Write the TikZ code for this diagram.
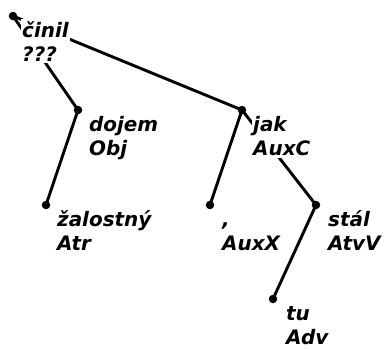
\documentclass[tikz,border=0pt]{standalone}
\usepackage{fontspec}
\setmainfont{DejaVu Sans}[ItalicFont={DejaVu Sans Oblique},BoldFont={DejaVu Sans Bold},BoldItalicFont={DejaVu Sans Bold Oblique}]
\begin{document}
\begin{tikzpicture}[x=1bp,y=-1bp,
  dotnode/.style={circle,fill=black,inner sep=0pt,minimum size=8.5bp},
  edge/.style={line width=2.9bp,black},
  lbl/.style={anchor=north west,fill=white,inner sep=1.5bp,align=left,
    font=\fontsize{20}{24}\selectfont\bfseries\itshape}]
\useasboundingbox (0,0) rectangle (387,349);
\node[dotnode] (c) at (13,16) {};
\node[dotnode] (d) at (78,110) {};
\node[dotnode] (z) at (46,205) {};
\node[dotnode] (j) at (242,110) {};
\node[dotnode] (m) at (210,205) {};
\node[dotnode] (s) at (316,205) {};
\node[dotnode] (t) at (273,299) {};
\draw[edge] (c.center) -- (d.center);
\draw[edge] (d.center) -- (z.center);
\draw[edge] (c.center) -- (j.center);
\draw[edge] (j.center) -- (m.center);
\draw[edge] (j.center) -- (s.center);
\draw[edge] (s.center) -- (t.center);
\node[lbl] (lc) at (20.5,19) {\strut činil\\???};
\node[lbl] (ld) at (87.5,113.5) {\strut dojem\\Obj};
\node[lbl] (lz) at (55.5,208.5) {\strut žalostný\\Atr};
\node[lbl] (lj) at (251.5,113.5) {\strut jak\\AuxC};
\node[lbl] (lm) at (220.5,208.5) {\strut ,\\AuxX};
\node[lbl] (ls) at (326.5,208.5) {\strut stál\\AtvV};
\node[lbl] (lt) at (284.5,302.5) {\strut tu\\Adv};
\end{tikzpicture}
\end{document}
